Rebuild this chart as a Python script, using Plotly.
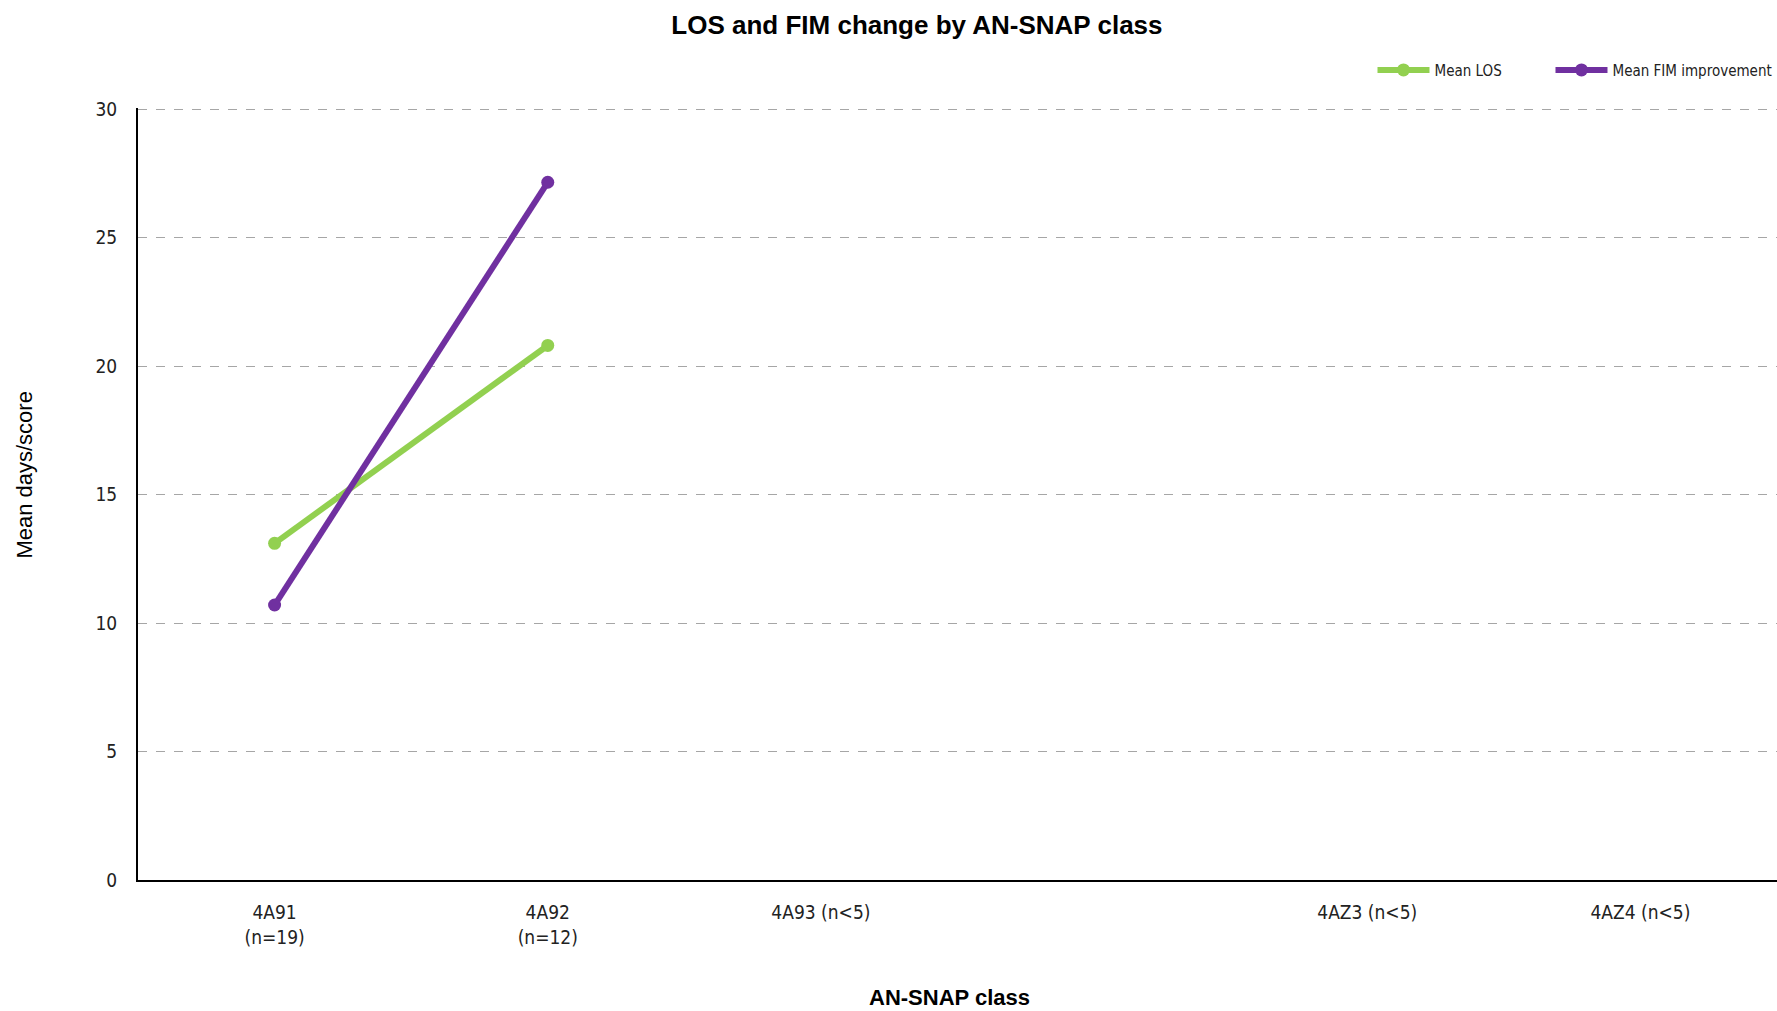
import plotly.graph_objects as go

categories = ["4A91<br>(n=19)", "4A92<br>(n=12)", "4A93 (n<5)", " ", "4AZ3 (n<5)", "4AZ4 (n<5)"]
mean_los = [13.1, 20.8, None, None, None, None]
mean_fim = [10.7, 27.15, None, None, None, None]
y_ticks = [0, 5, 10, 15, 20, 25, 30]

NARROW = "Liberation Sans Narrow, DejaVu Sans Condensed, Roboto Condensed, Liberation Sans, sans-serif"
FONT = "Liberation Sans, Arial, sans-serif"

fig = go.Figure()
fig.add_trace(go.Scatter(
    x=categories, y=mean_los, name="Mean LOS", mode="lines+markers", legend="legend",
    line=dict(color="#92D050", width=6), marker=dict(size=13, color="#92D050"),
))
fig.add_trace(go.Scatter(
    x=categories, y=mean_fim, name="Mean FIM improvement", mode="lines+markers", legend="legend2",
    line=dict(color="#7030A0", width=6), marker=dict(size=13, color="#7030A0"),
))

legend_style = dict(orientation="h", xanchor="left", y=1.049, yanchor="middle",
                    font=dict(size=15, color="#222222"), itemwidth=52, bgcolor="rgba(0,0,0,0)")

fig.update_layout(
    width=1777, height=1011,
    margin=dict(l=138, r=0, t=108, b=131, autoexpand=False),
    paper_bgcolor="white", plot_bgcolor="white",
    font=dict(family=NARROW, color="#222222", size=18),
    title=dict(text="<b>LOS and FIM change by AN-SNAP class</b>", x=0.516, xanchor="center",
               y=0.975, yanchor="middle", font=dict(family=FONT, size=26, color="#000000")),
    legend=dict(x=0.7532, **legend_style),
    legend2=dict(x=0.8618, **legend_style),
    showlegend=True,
    annotations=[
        dict(text="Mean days/score", xref="paper", yref="paper", x=-0.069, y=0.525,
             xanchor="center", yanchor="middle", textangle=-90, showarrow=False,
             font=dict(family=FONT, size=22, color="#000000")),
        dict(text="<b>AN-SNAP class</b>", xref="paper", yref="paper", x=0.495, y=-0.152,
             xanchor="center", yanchor="middle", showarrow=False,
             font=dict(family=FONT, size=22, color="#000000")),
    ],
)
fig.update_xaxes(
    type="category", categoryorder="array", categoryarray=categories, automargin=False,
    range=[-0.5, 5.5], showline=True, linecolor="#000000", linewidth=2,
    showgrid=False, ticks="", ticklabelstandoff=14, tickfont=dict(size=19, color="#222222"),
)
fig.update_yaxes(
    range=[0, 30.04], tickvals=y_ticks, showline=True, linecolor="#000000", linewidth=2,
    showgrid=True, gridcolor="#A6A6A6", griddash="dash", gridwidth=1.3, automargin=False,
    zeroline=False, ticks="", ticklabelstandoff=15, tickfont=dict(size=19, color="#222222"),
)

fig.write_html("out.html", config={"displayModeBar": False},
               post_script="document.body.style.margin='0';")
